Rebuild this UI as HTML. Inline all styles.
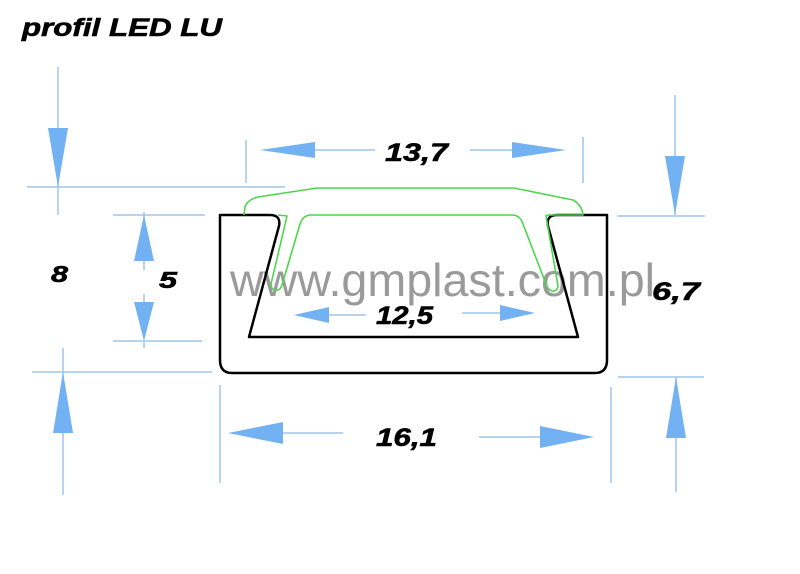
<!DOCTYPE html>
<html><head><style>html,body{margin:0;padding:0;background:#fff}svg{display:block}</style></head>
<body>
<svg width="800" height="574" viewBox="0 0 800 574" xmlns="http://www.w3.org/2000/svg">
<g stroke="#9dc5e8" stroke-width="1.5" fill="none">
<line x1="58" y1="67" x2="58" y2="215"/>
<line x1="27" y1="187" x2="285" y2="187"/>
<line x1="63" y1="348" x2="63" y2="495"/>
<line x1="32" y1="372" x2="212" y2="372"/>
<line x1="113" y1="215" x2="205" y2="215"/>
<line x1="113" y1="341" x2="202" y2="341"/>
<line x1="144" y1="212" x2="144" y2="220"/>
<line x1="144" y1="261" x2="144" y2="270"/>
<line x1="144" y1="294" x2="144" y2="302"/>
<line x1="144" y1="341" x2="144" y2="348"/>
<line x1="246" y1="140" x2="246" y2="183"/>
<line x1="583" y1="137" x2="583" y2="183"/>
<line x1="315" y1="150" x2="375" y2="150"/>
<line x1="470" y1="150" x2="512" y2="150"/>
<line x1="675" y1="95" x2="675" y2="215"/>
<line x1="617" y1="216" x2="705" y2="216"/>
<line x1="676" y1="377" x2="676" y2="492"/>
<line x1="618" y1="377" x2="704" y2="377"/>
<line x1="220" y1="385" x2="220" y2="483"/>
<line x1="611" y1="387" x2="611" y2="483"/>
<line x1="283" y1="433" x2="343" y2="433"/>
<line x1="479" y1="437" x2="540" y2="437"/>
<line x1="329" y1="315" x2="366" y2="315"/>
<line x1="462" y1="313" x2="500" y2="313"/>
</g>
<g fill="#72b2f2">
<polygon points="48,128 68,128 58,187"/>
<polygon points="53,433 73,433 63,372"/>
<polygon points="134,261 154,261 144,215"/>
<polygon points="134,302 154,302 144,341"/>
<polygon points="260,150 315,142 315,158"/>
<polygon points="566,150 512,142 512,158"/>
<polygon points="665,156 685,156 675,215"/>
<polygon points="666,438 686,438 676,377"/>
<polygon points="228,433 283,422 283,444"/>
<polygon points="594,437 540,426 540,448"/>
<polygon points="294,315 329,307 329,323"/>
<polygon points="535,313 500,305 500,321"/>
</g>
<text x="230" y="296" font-family="Liberation Sans, sans-serif" font-size="46" fill="#9a9a9a" textLength="425" lengthAdjust="spacingAndGlyphs">www.gmplast.com.pl</text>
<path d="M220,215 L270,215 Q281,215 279,226 L249,337 L578,337 L548,226 Q546,215 557,215 L607,215 L607,360 Q607,373 595,373 L232,373 Q220,373 220,360 Z" fill="none" stroke="#000" stroke-width="2.5" stroke-linejoin="round"/>
<path d="M244,215 L245,207 Q247,200 258,197 L317,188 L514,188 L573,200 Q582,205 583,215 L548,215 L546,216 L558,286 Q557,292 552,291 Q548,290 546,284 L523,224 Q520,215 512,215 L311,215 Q303,215 300,224 L282,285 Q280,291 276,290 Q271,290 271,284 L287,216 L278,215" fill="none" stroke="#4cd64c" stroke-width="1.6" stroke-linejoin="round"/>
<g font-family="Liberation Sans, sans-serif" font-weight="bold" font-style="italic" fill="#000" stroke="#000" stroke-width="0.6" lengthAdjust="spacingAndGlyphs">
<text x="22" y="36" font-size="25" textLength="200" lengthAdjust="spacingAndGlyphs">profil LED LU</text>
<text x="51" y="282" font-size="23" textLength="17" lengthAdjust="spacingAndGlyphs">8</text>
<text x="159" y="288" font-size="23" textLength="18" lengthAdjust="spacingAndGlyphs">5</text>
<text x="385" y="161" font-size="25" textLength="63" lengthAdjust="spacingAndGlyphs">13,7</text>
<text x="376" y="324" font-size="25" textLength="57" lengthAdjust="spacingAndGlyphs">12,5</text>
<text x="376" y="446" font-size="25" textLength="61" lengthAdjust="spacingAndGlyphs">16,1</text>
<text x="652" y="300" font-size="25" textLength="48" lengthAdjust="spacingAndGlyphs">6,7</text>
</g>
</svg>
</body></html>
